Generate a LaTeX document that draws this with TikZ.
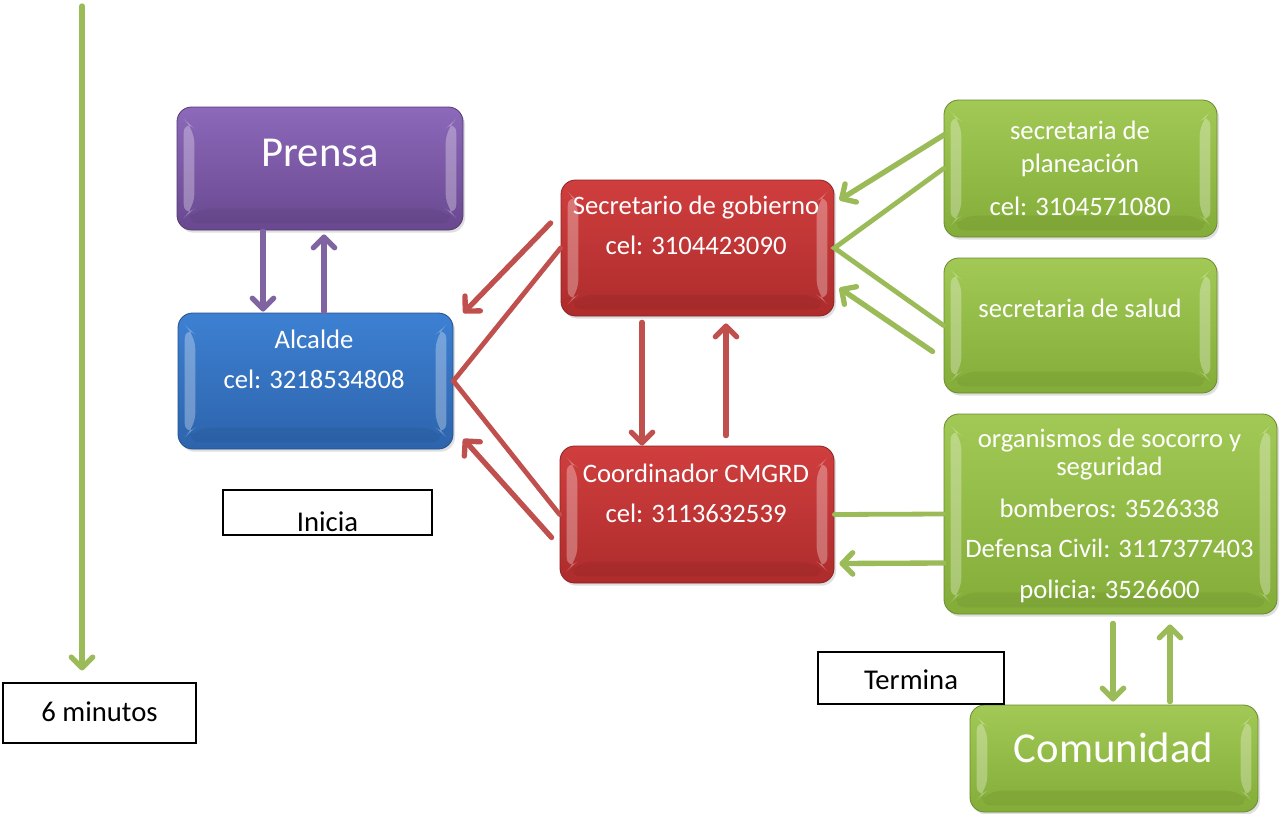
\documentclass[tikz,border=0pt]{standalone}
\usepackage{fontspec}
\setmainfont{Carlito}
\usetikzlibrary{arrows.meta,calc,shadows}
\definecolor{gline}{HTML}{9BBB59}
\definecolor{rline}{HTML}{C0504D}
\definecolor{pline}{HTML}{8064A2}
\definecolor{ptop}{HTML}{8C69BA}
\definecolor{pbot}{HTML}{694890}
\definecolor{btop}{HTML}{3D80D2}
\definecolor{bbot}{HTML}{2D64AC}
\definecolor{rtop}{HTML}{D03E3E}
\definecolor{rbot}{HTML}{AE2C2C}
\definecolor{gtop}{HTML}{A2C955}
\definecolor{gbot}{HTML}{83AC38}
\newcommand{\pxl}[1]{#1*0.75pt}
\tikzset{
  bevel/.style={path picture={
    \fill[white,opacity=0.3] ([shift={(5pt,-9pt)}]path picture bounding box.north west) -- ([shift={(13pt,-16pt)}]path picture bounding box.north west) -- ([shift={(13pt,16pt)}]path picture bounding box.south west) -- ([shift={(5pt,9pt)}]path picture bounding box.south west) -- cycle;
    \fill[white,opacity=0.3] ([shift={(-5pt,-9pt)}]path picture bounding box.north east) -- ([shift={(-13pt,-16pt)}]path picture bounding box.north east) -- ([shift={(-13pt,16pt)}]path picture bounding box.south east) -- ([shift={(-5pt,9pt)}]path picture bounding box.south east) -- cycle;
    \fill[black,opacity=0.05] ([shift={(13pt,16pt)}]path picture bounding box.south west) -- ([shift={(-13pt,16pt)}]path picture bounding box.south east) -- ([shift={(-5pt,5pt)}]path picture bounding box.south east) -- ([shift={(5pt,5pt)}]path picture bounding box.south west) -- cycle;
  }},
  bx/.style={rounded corners=11pt, inner sep=0pt, bevel,
    drop shadow={opacity=0.25, shadow xshift=1.5pt, shadow yshift=-2pt}},
  purplebox/.style={bx, top color=ptop, bottom color=pbot, draw=pbot!80!black, line width=0.6pt},
  bluebox/.style={bx, top color=btop, bottom color=bbot, draw=bbot!80!black, line width=0.6pt},
  redbox/.style={bx, top color=rtop, bottom color=rbot, draw=rbot!80!black, line width=0.6pt},
  greenbox/.style={bx, top color=gtop, bottom color=gbot, draw=gbot!80!black, line width=0.6pt},
  txt/.style={text=white, font=\fontsize{20}{24}\selectfont, anchor=base, inner sep=0pt},
  bigtxt/.style={text=white, font=\fontsize{32}{38}\selectfont, anchor=base, inner sep=0pt},
  lblbox/.style={draw=black, line width=0.8pt, fill=white, inner sep=0pt},
  lbltxt/.style={text=black, font=\fontsize{21.5}{26}\selectfont, anchor=base, inner sep=0pt},
  conn/.style={line width=4pt, line cap=round, -{Straight Barb[length=8pt,width=16pt,line cap=round,line join=round]}},
  plain/.style={line width=3.6pt, line cap=round, line join=miter},
}
\begin{document}
\begin{tikzpicture}[x=0.75pt,y=-0.75pt]
\useasboundingbox (0,0) rectangle (1283,814);
% boxes
\node[purplebox, minimum width=\pxl{286}, minimum height=\pxl{123}] (pre) at (320,168.5) {};
\node[bluebox, minimum width=\pxl{275}, minimum height=\pxl{136}] (alc) at (315.5,381) {};
\node[redbox, minimum width=\pxl{273}, minimum height=\pxl{136}] (sec) at (697.5,248) {};
\node[redbox, minimum width=\pxl{274}, minimum height=\pxl{137}] (coo) at (697,514.5) {};
\node[greenbox, minimum width=\pxl{273}, minimum height=\pxl{137}] (pla) at (1080.5,168.5) {};
\node[greenbox, minimum width=\pxl{273}, minimum height=\pxl{135}] (sal) at (1080.5,325.5) {};
\node[greenbox, minimum width=\pxl{333}, minimum height=\pxl{200}] (org) at (1110.5,514) {};
\node[greenbox, minimum width=\pxl{288}, minimum height=\pxl{107}] (com) at (1114,758.5) {};
% box texts
\node[bigtxt] (preT) at (320,166) {Prensa};
\node[txt] (alcA) at (314,348) {Alcalde};
\node[txt] (alcB) at (314,388) {cel: 3218534808};
\node[txt] (secA) at (696,214) {Secretario de gobierno};
\node[txt] (secB) at (696,254) {cel: 3104423090};
\node[txt] (cooA) at (696,482) {Coordinador CMGRD};
\node[txt] (cooB) at (696,522) {cel: 3113632539};
\node[txt] (plaA) at (1080,139) {secretaria de};
\node[txt] (plaB) at (1080,172) {planeación};
\node[txt] (plaC) at (1080,215) {cel: 3104571080};
\node[txt] (salA) at (1080,317) {secretaria de salud};
\node[txt] (orgA) at (1109.5,447) {organismos de socorro y};
\node[txt] (orgB) at (1109.5,475) {seguridad};
\node[txt] (orgC) at (1109.5,517) {bomberos: 3526338};
\node[txt] (orgD) at (1109.5,557) {Defensa Civil: 3117377403};
\node[txt] (orgE) at (1109.5,598) {policia: 3526600};
\node[bigtxt] (comT) at (1113.5,762) {Comunidad};
% label boxes
\node[lblbox, minimum width=\pxl{209}, minimum height=\pxl{45}] (ini) at (327.5,512.5) {};
\begin{scope}
\clip (224,491) rectangle (431,534.5);
\node[lbltxt] (iniT) at (327.5,531) {Inicia};
\end{scope}
\node[lblbox, minimum width=\pxl{186}, minimum height=\pxl{52}] (ter) at (911,678) {};
\node[lbltxt] (terT) at (911,689) {Termina};
\node[lblbox, minimum width=\pxl{193}, minimum height=\pxl{60}] (min) at (99.5,713) {};
\node[lbltxt] (minT) at (99.5,721) {6 minutos};
% timeline
\coordinate (tstart) at (82,6);
\draw[conn, gline] (tstart) -- ($(min.north)+(-17.5,-12)$);
% purple
\draw[conn, pline] ($(pre.south)+(-57,1)$) -- ($(alc.north)+(-52.5,-1)$);
\draw[conn, pline] ($(alc.north)+(8.5,-1)$) -- ($(pre.south)+(4,4)$);
% red
\draw[conn, rline] ($(sec.west)+(-10,-25)$) -- ($(alc.east)+(10,-68)$);
\draw[plain, rline] (sec.west) -- (alc.east) -- (coo.west);
\draw[conn, rline] ($(coo.west)+(-8,23)$) -- ($(alc.east)+(10,58)$);
\draw[conn, rline] ($(sec.south)+(-55.5,6)$) -- ($(coo.north)+(-55,0)$);
\draw[conn, rline] ($(coo.north)+(29,-10)$) -- ($(sec.south)+(28.5,7)$);
% green
\draw[conn, gline] ($(pla.west)+(1,-34)$) -- ($(sec.east)+(5,-48)$);
\draw[plain, gline] (pla.west) -- (sec.east) -- (sal.west);
\draw[conn, gline] ($(sal.west)+(-11,26)$) -- ($(sec.east)+(5,40)$);
\draw[plain, gline] (coo.east) -- (org.west);
\draw[conn, gline] ($(org.west)+(0,49)$) -- ($(coo.east)+(5,49)$);
\draw[conn, gline] ($(org.south)+(2.5,9)$) -- ($(com.north)+(-1,-3)$);
\draw[conn, gline] ($(com.north)+(56,-3)$) -- ($(org.south)+(59.5,10)$);
\end{tikzpicture}
\end{document}
